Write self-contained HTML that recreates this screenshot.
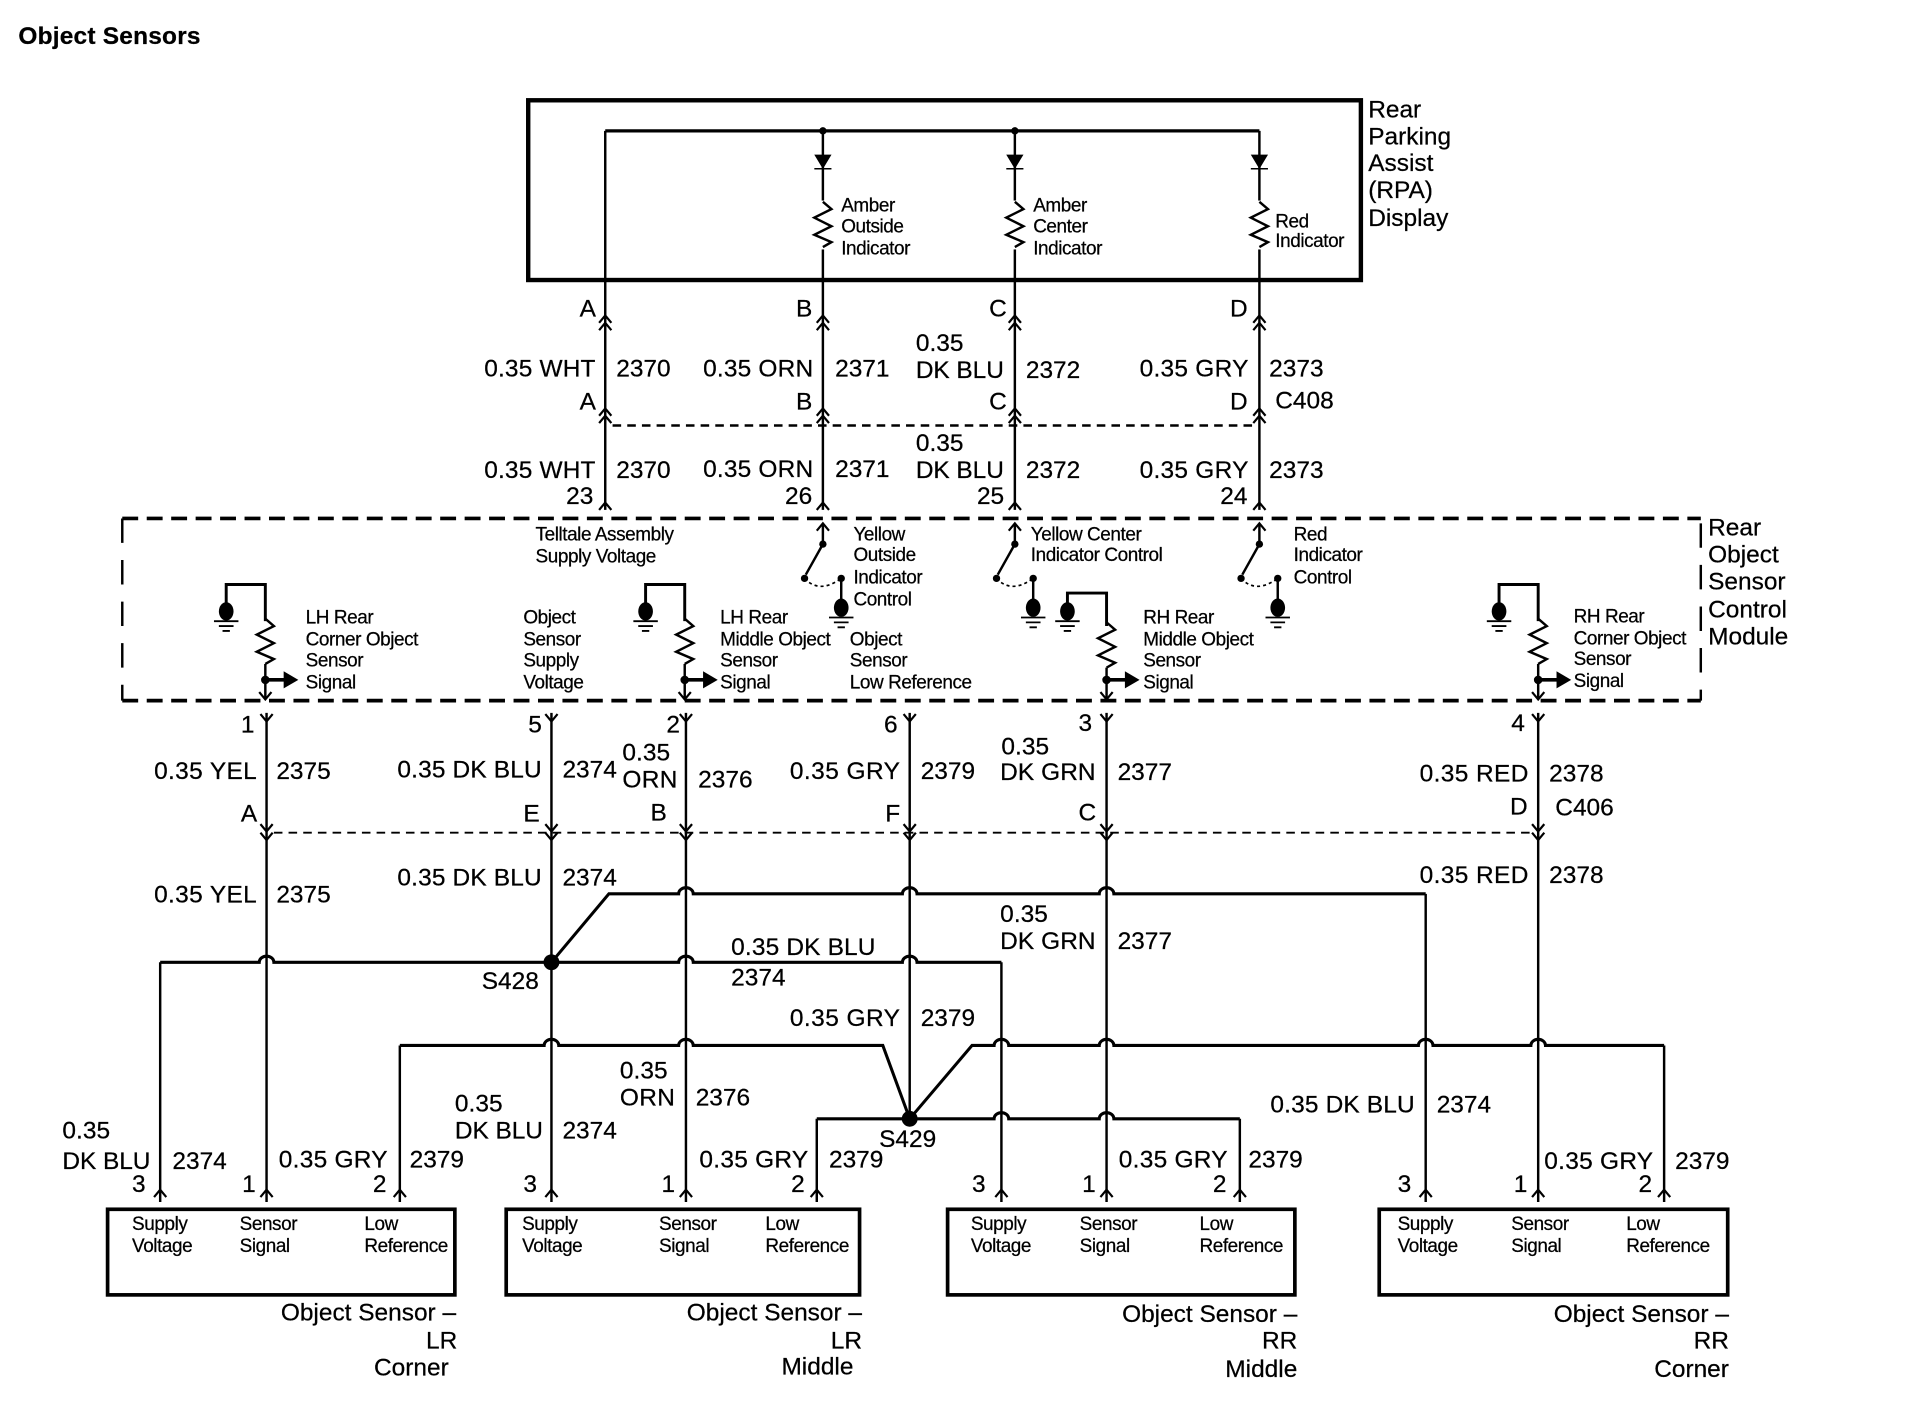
<!DOCTYPE html>
<html><head><meta charset="utf-8"><title>Object Sensors</title>
<style>
html,body{margin:0;padding:0;background:#fff}
svg{display:block}
text{font-family:"Liberation Sans",sans-serif;fill:#000;font-size:20px;stroke:#000;stroke-width:.2}
.s text,text.s{font-size:15.5px;letter-spacing:-.35px}
.w{fill:none;stroke:#000;stroke-width:2}
.t{fill:none;stroke:#000;stroke-width:3}
.c{fill:none;stroke:#000;stroke-width:1.6}
</style></head><body>
<svg xmlns="http://www.w3.org/2000/svg" width="1916" height="1408" viewBox="0 0 1567 1151.5">
<defs>
<path id="u" d="M-5,6 L0,0 L5,6" fill="none" stroke="#000" stroke-width="1.8"/>
<path id="d" d="M-5,-6 L0,0 L5,-6" fill="none" stroke="#000" stroke-width="1.8"/>
<path id="z" d="M0,0 L7,6 L-7,13 L7,20 L-7,27 L7,33 L0,37" fill="none" stroke="#000" stroke-width="2"/>
<g id="g"><ellipse cx="0" cy="0" rx="6" ry="7.5" fill="#000"/><path d="M-10,8 H10 M-6,12 H6 M-3,16 H3" stroke="#000" stroke-width="1.5"/></g>
<path id="diode" d="M-6,0 H6 L0,10 Z M-7,11 H7" fill="#000" stroke="#000" stroke-width="1.2"/>
</defs>
<rect width="1567" height="1151.5" fill="#fff"/>
<text x="15" y="36" font-weight="bold" textLength="149">Object Sensors</text>

<!-- RPA display -->
<rect x="432" y="82" width="681" height="147" class="t" style="stroke-width:3.6"/>
<path class="t" d="M495,107 H1030" style="stroke-width:2.6"/>
<path class="w" d="M495,107 V417 M673,107 V417 M830,107 V417 M1030,107 V417"/>
<circle cx="673" cy="107" r="3" /><circle cx="830" cy="107" r="3"/>
<use href="#diode" x="673" y="127"/><use href="#diode" x="830" y="127"/><use href="#diode" x="1030" y="127"/>
<g fill="#fff"><rect x="668" y="164" width="10" height="40"/><rect x="825" y="164" width="10" height="40"/><rect x="1025" y="164" width="10" height="40"/></g>
<use href="#z" x="673" y="165"/><use href="#z" x="830" y="165"/><use href="#z" x="1030" y="165"/>

<!-- chevrons C408 -->
<g>
<use href="#u" x="495" y="258"/><use href="#u" x="495" y="264"/><use href="#u" x="673" y="258"/><use href="#u" x="673" y="264"/>
<use href="#u" x="830" y="258"/><use href="#u" x="830" y="264"/><use href="#u" x="1030" y="258"/><use href="#u" x="1030" y="264"/>
<use href="#u" x="495" y="334"/><use href="#u" x="495" y="340"/><use href="#u" x="673" y="334"/><use href="#u" x="673" y="340"/>
<use href="#u" x="830" y="334"/><use href="#u" x="830" y="340"/><use href="#u" x="1030" y="334"/><use href="#u" x="1030" y="340"/>
<use href="#u" x="495" y="411"/><use href="#u" x="673" y="411"/><use href="#u" x="830" y="411"/><use href="#u" x="1030" y="411"/>
</g>
<path d="M501,348 H1024" stroke="#000" stroke-width="2" stroke-dasharray="7 5" fill="none"/>

<!-- control module dashed -->
<path d="M100,424 H1391" stroke="#000" stroke-width="3" stroke-dasharray="13 7" fill="none"/>
<path d="M100,573 H1391" stroke="#000" stroke-width="3" stroke-dasharray="13 7" fill="none"/>
<path d="M100,424 V573 M1391,428 V573" stroke="#000" stroke-width="2" stroke-dasharray="20 14" fill="none"/>

<!-- switches -->
<g id="sw1">
<path class="w" d="M673,429 V445 L659,470"/><use href="#u" x="673" y="428"/><circle cx="673" cy="445" r="3"/><circle cx="658" cy="473" r="3"/><circle cx="688" cy="473" r="3"/>
<path d="M658,473 Q670,486 688,473" fill="none" stroke="#000" stroke-width="1.4" stroke-dasharray="2.5 2.5"/>
<path class="w" d="M688,473 V495"/><use href="#g" x="688" y="497"/>
</g>
<use href="#sw1" x="157" y="0"/><use href="#sw1" x="357" y="0"/>

<!-- pull-ups -->
<g id="pu">
<path class="w" d="M185,497 V478 H217 V508" style="stroke-width:2.4"/>
<use href="#g" x="185" y="500"/>
<use href="#z" x="217" y="506"/>
<path class="w" d="M217,543 V572"/><circle cx="217" cy="556" r="3.5"/>
<path d="M217,556 H233" stroke="#000" stroke-width="3"/><path d="M232,549 L244,556 L232,563 Z"/>
<use href="#d" x="217" y="572"/>
</g>
<use href="#pu" x="343" y="0"/><use href="#pu" x="1041" y="0"/>
<!-- RH middle pull-up -->
<path class="w" d="M873,497 V485 H905 V512" style="stroke-width:2.4"/>
<use href="#g" x="873" y="500"/>
<use href="#z" x="905" y="509"/>
<path class="w" d="M905,546 V572"/><circle cx="905" cy="556" r="3.5"/>
<path d="M905,556 H921" stroke="#000" stroke-width="3"/><path d="M920,549 L932,556 L920,563 Z"/>
<use href="#d" x="905" y="572"/>

<!-- lower wires -->
<path class="w" d="M218,583 V983 M451,583 V983 M561,583 V983 M744,583 V915 M905,583 V983 M1258,583 V983"/>
<path d="M224,681 H1252" stroke="#000" stroke-width="1.6" stroke-dasharray="7 5" fill="none"/>
<g>
<use href="#d" x="218" y="590"/><use href="#d" x="451" y="590"/><use href="#d" x="561" y="590"/><use href="#d" x="744" y="590"/><use href="#d" x="905" y="590"/><use href="#d" x="1258" y="590"/>
<use href="#d" x="218" y="680"/><use href="#d" x="451" y="680"/><use href="#d" x="561" y="680"/><use href="#d" x="744" y="680"/><use href="#d" x="905" y="680"/><use href="#d" x="1258" y="680"/>
<use href="#d" x="218" y="687"/><use href="#d" x="451" y="687"/><use href="#d" x="561" y="687"/><use href="#d" x="744" y="687"/><use href="#d" x="905" y="687"/><use href="#d" x="1258" y="687"/>
</g>
<path class="t" style="stroke-width:2.5" d="M451,787 L498,731 H555 a6,5 0 0 1 12,0 H738 a6,5 0 0 1 12,0 H899 a6,5 0 0 1 12,0 H1166"/>
<path class="t" style="stroke-width:2.5" d="M131,787 H212 a6,5 0 0 1 12,0 H555 a6,5 0 0 1 12,0 H738 a6,5 0 0 1 12,0 H819"/>
<path class="t" style="stroke-width:2.5" d="M327,855 H445 a6,5 0 0 1 12,0 H555 a6,5 0 0 1 12,0 H722 L744,915 L795,855 H813 a6,5 0 0 1 12,0 H899 a6,5 0 0 1 12,0 H1160 a6,5 0 0 1 12,0 H1252 a6,5 0 0 1 12,0 H1361"/>
<path class="t" style="stroke-width:2.5" d="M668,915 H813 a6,5 0 0 1 12,0 H899 a6,5 0 0 1 12,0 H1014"/>
<path class="w" d="M131,787 V983 M327,855 V983 M668,915 V983 M819,787 V983 M1014,915 V983 M1166,731 V983 M1361,855 V983"/>
<circle cx="451" cy="787" r="6.5"/><circle cx="744" cy="915" r="6.5"/>
<g>
<use href="#u" x="131" y="973"/><use href="#u" x="218" y="973"/><use href="#u" x="327" y="973"/><use href="#u" x="451" y="973"/><use href="#u" x="561" y="973"/><use href="#u" x="668" y="973"/><use href="#u" x="819" y="973"/><use href="#u" x="905" y="973"/><use href="#u" x="1014" y="973"/><use href="#u" x="1166" y="973"/><use href="#u" x="1258" y="973"/><use href="#u" x="1361" y="973"/>
</g>

<!-- sensor boxes -->
<rect x="88" y="989" width="284" height="70" class="t"/>
<rect x="414" y="989" width="289" height="70" class="t"/>
<rect x="775" y="989" width="284" height="70" class="t"/>
<rect x="1128" y="989" width="285" height="70" class="t"/>

<!-- right titles -->
<text x="1119" y="96">Rear</text><text x="1119" y="118">Parking</text><text x="1119" y="140">Assist</text><text x="1119" y="162">(RPA)</text><text x="1119" y="185">Display</text>
<text x="1397" y="438">Rear</text><text x="1397" y="460">Object</text><text x="1397" y="482">Sensor</text><text x="1397" y="505">Control</text><text x="1397" y="527">Module</text>

<!-- C408 labels -->
<text x="474" y="259">A</text><text x="651" y="259">B</text><text x="809" y="259">C</text><text x="1006" y="259">D</text>
<text x="474" y="335">A</text><text x="651" y="335">B</text><text x="809" y="335">C</text><text x="1006" y="335">D</text><text x="1043" y="334">C408</text>
<text x="396" y="308" textLength="91">0.35 WHT</text><text x="504" y="308">2370</text>
<text x="575" y="308" textLength="90">0.35 ORN</text><text x="683" y="308">2371</text>
<text x="749" y="287" textLength="39">0.35</text><text x="749" y="309" textLength="72">DK BLU</text><text x="839" y="309">2372</text>
<text x="932" y="308" textLength="89">0.35 GRY</text><text x="1038" y="308">2373</text>
<text x="396" y="391" textLength="91">0.35 WHT</text><text x="504" y="391">2370</text>
<text x="575" y="390" textLength="90">0.35 ORN</text><text x="683" y="390">2371</text>
<text x="749" y="369" textLength="39">0.35</text><text x="749" y="391" textLength="72">DK BLU</text><text x="839" y="391">2372</text>
<text x="932" y="391" textLength="89">0.35 GRY</text><text x="1038" y="391">2373</text>
<text x="463" y="412">23</text><text x="642" y="412">26</text><text x="799" y="412">25</text><text x="998" y="412">24</text>

<!-- small labels -->
<g class="s">
<text x="688" y="173">Amber</text><text x="688" y="190">Outside</text><text x="688" y="208">Indicator</text>
<text x="845" y="173">Amber</text><text x="845" y="190">Center</text><text x="845" y="208">Indicator</text>
<text x="1043" y="186">Red</text><text x="1043" y="202">Indicator</text>
<text x="438" y="442">Telltale Assembly</text><text x="438" y="460">Supply Voltage</text>
<text x="698" y="442">Yellow</text><text x="698" y="459">Outside</text><text x="698" y="477">Indicator</text><text x="698" y="495">Control</text>
<text x="843" y="442">Yellow Center</text><text x="843" y="459">Indicator Control</text>
<text x="1058" y="442">Red</text><text x="1058" y="459">Indicator</text><text x="1058" y="477">Control</text>
<text x="250" y="510">LH Rear</text><text x="250" y="528">Corner Object</text><text x="250" y="545">Sensor</text><text x="250" y="563">Signal</text>
<text x="428" y="510">Object</text><text x="428" y="528">Sensor</text><text x="428" y="545">Supply</text><text x="428" y="563">Voltage</text>
<text x="589" y="510">LH Rear</text><text x="589" y="528">Middle Object</text><text x="589" y="545">Sensor</text><text x="589" y="563">Signal</text>
<text x="695" y="528">Object</text><text x="695" y="545">Sensor</text><text x="695" y="563">Low Reference</text>
<text x="935" y="510">RH Rear</text><text x="935" y="528">Middle Object</text><text x="935" y="545">Sensor</text><text x="935" y="563">Signal</text>
<text x="1287" y="509">RH Rear</text><text x="1287" y="527">Corner Object</text><text x="1287" y="544">Sensor</text><text x="1287" y="562">Signal</text>
<text x="108" y="1006">Supply</text><text x="108" y="1024">Voltage</text><text x="196" y="1006">Sensor</text><text x="196" y="1024">Signal</text><text x="298" y="1006">Low</text><text x="298" y="1024">Reference</text>
<text x="427" y="1006">Supply</text><text x="427" y="1024">Voltage</text><text x="539" y="1006">Sensor</text><text x="539" y="1024">Signal</text><text x="626" y="1006">Low</text><text x="626" y="1024">Reference</text>
<text x="794" y="1006">Supply</text><text x="794" y="1024">Voltage</text><text x="883" y="1006">Sensor</text><text x="883" y="1024">Signal</text><text x="981" y="1006">Low</text><text x="981" y="1024">Reference</text>
<text x="1143" y="1006">Supply</text><text x="1143" y="1024">Voltage</text><text x="1236" y="1006">Sensor</text><text x="1236" y="1024">Signal</text><text x="1330" y="1006">Low</text><text x="1330" y="1024">Reference</text>
</g>

<!-- C406 upper labels -->
<text x="197" y="599">1</text><text x="432" y="599">5</text><text x="545" y="599">2</text><text x="723" y="599">6</text><text x="882" y="598">3</text><text x="1236" y="598">4</text>
<text x="126" y="637" textLength="84">0.35 YEL</text><text x="226" y="637">2375</text>
<text x="325" y="636" textLength="118">0.35 DK BLU</text><text x="460" y="636">2374</text>
<text x="509" y="622" textLength="39">0.35</text><text x="509" y="644" textLength="45">ORN</text><text x="571" y="644">2376</text>
<text x="646" y="637" textLength="90">0.35 GRY</text><text x="753" y="637">2379</text>
<text x="819" y="617" textLength="39">0.35</text><text x="818" y="638" textLength="78">DK GRN</text><text x="914" y="638">2377</text>
<text x="1161" y="639" textLength="89">0.35 RED</text><text x="1267" y="639">2378</text>
<text x="197" y="672">A</text><text x="428" y="672">E</text><text x="532" y="671">B</text><text x="724" y="672">F</text><text x="882" y="671">C</text><text x="1235" y="666">D</text><text x="1272" y="667">C406</text>

<!-- harness labels -->
<text x="126" y="738" textLength="84">0.35 YEL</text><text x="226" y="738">2375</text>
<text x="325" y="724" textLength="118">0.35 DK BLU</text><text x="460" y="724">2374</text>
<text x="1161" y="722" textLength="89">0.35 RED</text><text x="1267" y="722">2378</text>
<text x="818" y="754" textLength="39">0.35</text><text x="818" y="776" textLength="78">DK GRN</text><text x="914" y="776">2377</text>
<text x="598" y="781" textLength="118">0.35 DK BLU</text><text x="598" y="806">2374</text>
<text x="394" y="809">S428</text>
<text x="646" y="839" textLength="90">0.35 GRY</text><text x="753" y="839">2379</text>
<text x="507" y="882" textLength="39">0.35</text><text x="507" y="904" textLength="45">ORN</text><text x="569" y="904">2376</text>
<text x="1039" y="910" textLength="118">0.35 DK BLU</text><text x="1175" y="910">2374</text>
<text x="372" y="909" textLength="39">0.35</text><text x="372" y="931" textLength="72">DK BLU</text><text x="460" y="931">2374</text>
<text x="51" y="931" textLength="39">0.35</text><text x="51" y="956" textLength="72">DK BLU</text><text x="141" y="956">2374</text>
<text x="228" y="955" textLength="89">0.35 GRY</text><text x="335" y="955">2379</text>
<text x="572" y="955" textLength="89">0.35 GRY</text><text x="678" y="955">2379</text>
<text x="719" y="938">S429</text>
<text x="915" y="955" textLength="89">0.35 GRY</text><text x="1021" y="955">2379</text>
<text x="1263" y="956" textLength="89">0.35 GRY</text><text x="1370" y="956">2379</text>
<text x="108" y="975">3</text><text x="198" y="975">1</text><text x="305" y="975">2</text>
<text x="428" y="975">3</text><text x="541" y="975">1</text><text x="647" y="975">2</text>
<text x="795" y="975">3</text><text x="885" y="975">1</text><text x="992" y="975">2</text>
<text x="1143" y="975">3</text><text x="1238" y="975">1</text><text x="1340" y="975">2</text>

<!-- captions -->
<g text-anchor="end">
<text x="373" y="1080">Object Sensor –</text><text x="374" y="1103">LR</text><text x="367" y="1125">Corner</text>
<text x="705" y="1080">Object Sensor –</text><text x="705" y="1103">LR</text><text x="698" y="1124">Middle</text>
<text x="1061" y="1081">Object Sensor –</text><text x="1061" y="1103">RR</text><text x="1061" y="1126">Middle</text>
<text x="1414" y="1081">Object Sensor –</text><text x="1414" y="1103">RR</text><text x="1414" y="1126">Corner</text>
</g>
</svg>
</body></html>
